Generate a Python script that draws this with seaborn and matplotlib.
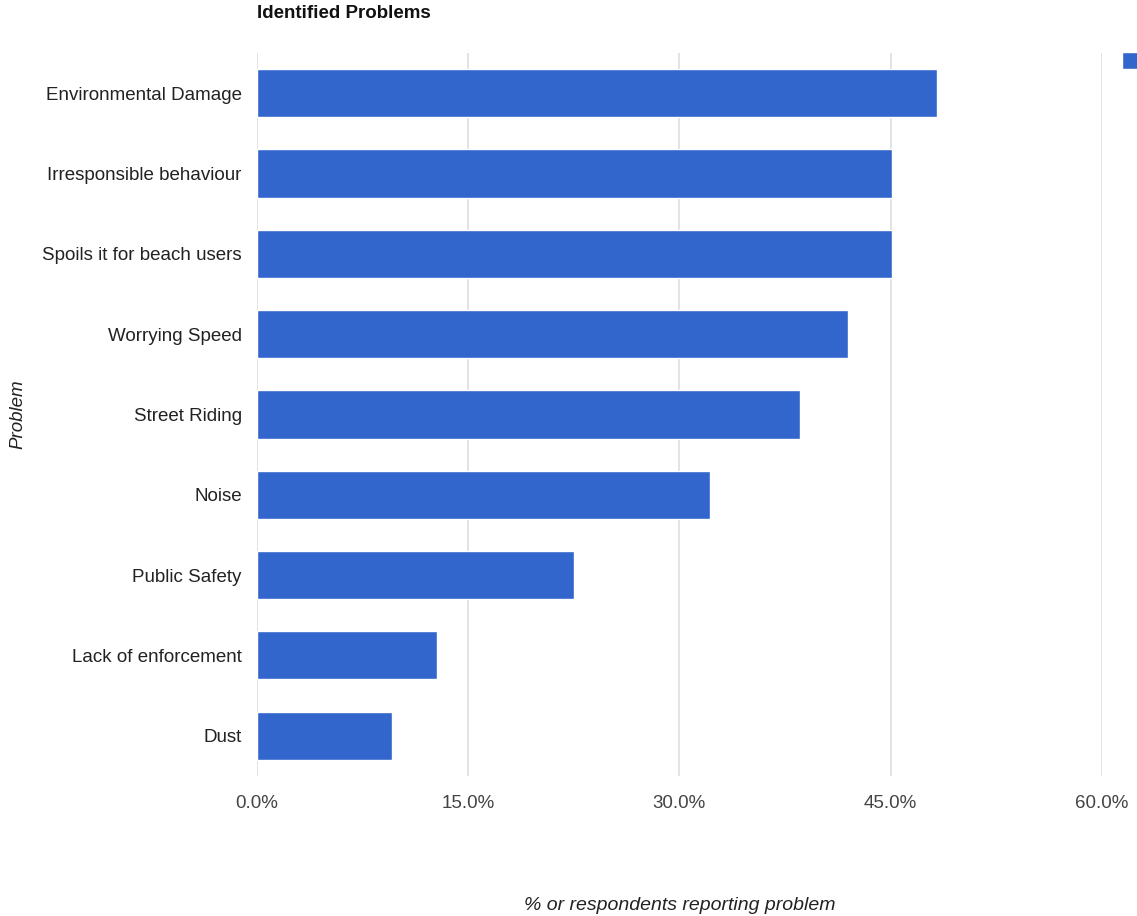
import matplotlib
matplotlib.use("Agg")
import matplotlib.pyplot as plt
import seaborn as sns
import pandas as pd
from matplotlib.ticker import FuncFormatter

problems = [
    "Environmental Damage",
    "Irresponsible behaviour",
    "Spoils it for beach users",
    "Worrying Speed",
    "Street Riding",
    "Noise",
    "Public Safety",
    "Lack of enforcement",
    "Dust",
]
percent_reporting = [48.3, 45.1, 45.1, 42.0, 38.6, 32.2, 22.5, 12.8, 9.6]
x_ticks = [0, 15, 30, 45, 60]

df = pd.DataFrame({"Problem": problems, "Percent": percent_reporting})

sns.set_theme(style="white")
plt.rcParams["font.family"] = ["Liberation Sans", "DejaVu Sans"]

fig = plt.figure(figsize=(11.37, 9.16), dpi=100)
ax = fig.add_axes([0.226, 0.153, 0.743, 0.789])

bar_color = "#3366cc"
sns.barplot(data=df, x="Percent", y="Problem", orient="h", color=bar_color,
            width=0.6, saturation=1, ax=ax, zorder=3)

ax.set_xlim(0, 60)
ax.set_xticks(x_ticks)
ax.xaxis.set_major_formatter(FuncFormatter(lambda v, _: f"{v:.1f}%"))
ax.grid(axis="x", color="#dedede", linewidth=1.2, zorder=0)
ax.grid(axis="y", visible=False)
for s in ax.spines.values():
    s.set_visible(False)
ax.tick_params(axis="x", length=0, pad=14, labelsize=13.5, labelcolor="#444444")
ax.tick_params(axis="y", length=0, pad=11, labelsize=13.5, labelcolor="#222222")

ax.set_ylabel("Problem", fontsize=13.5, style="italic", color="#222222")
ax.yaxis.set_label_coords(26 / 1137, 1 - 414 / 916, transform=fig.transFigure)
ax.set_xlabel("% or respondents reporting problem", fontsize=14, style="italic",
              color="#222222")
ax.xaxis.set_label_coords(680 / 1137, 1 - 897 / 916, transform=fig.transFigure)

fig.text(257 / 1137, 1 - 14 / 916, "Identified Problems", fontsize=13.5,
         fontweight="bold", color="#111111", va="center", ha="left")

# series key in the top-right corner
handles = [ax.patches[0]]
ax.legend(handles, [""], loc="upper left", bbox_to_anchor=(1122 / 1137, 1 - 52 / 916),
          bbox_transform=fig.transFigure, frameon=False, fontsize=13,
          handlelength=1.0, handleheight=1.1, borderaxespad=0, borderpad=0)

fig.savefig("out.png", dpi=100)
